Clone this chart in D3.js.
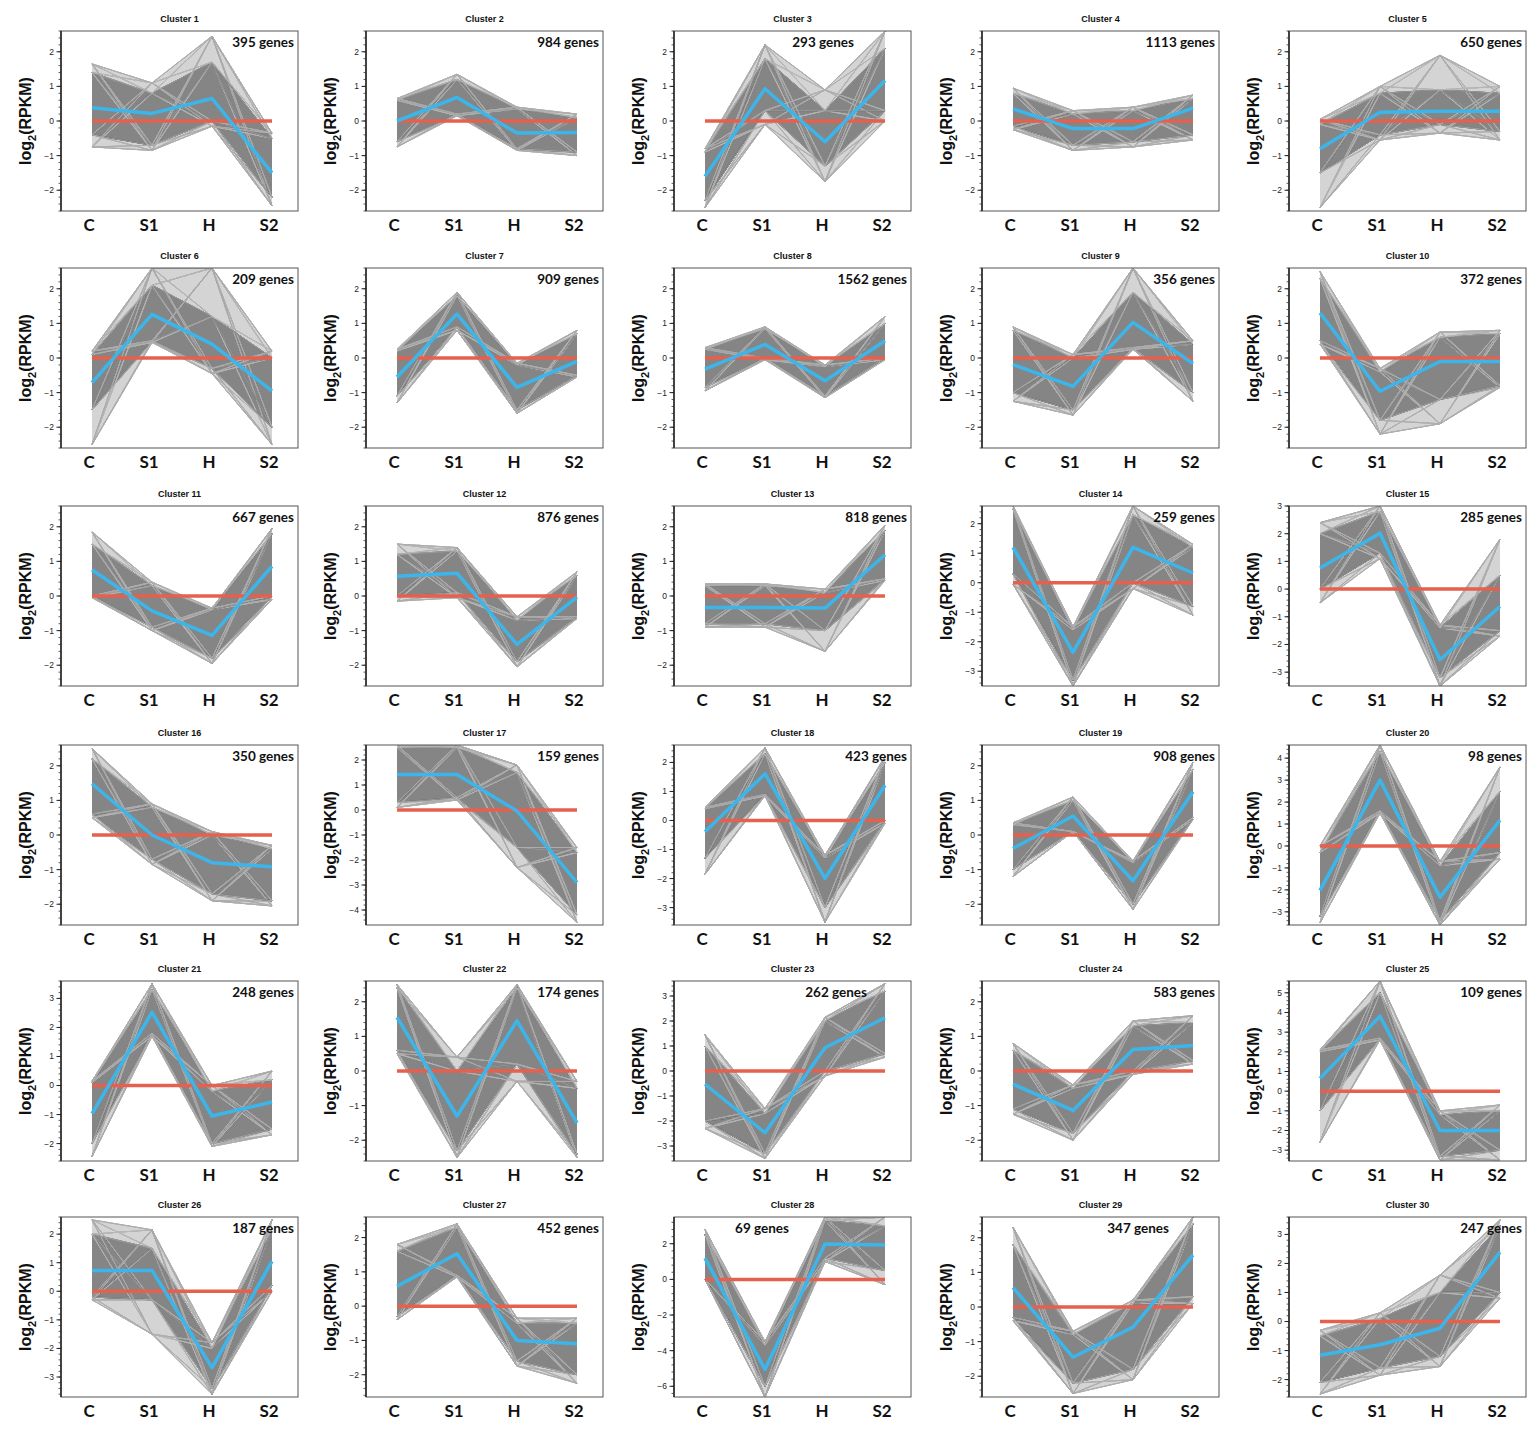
<!DOCTYPE html>
<html><head><meta charset="utf-8">
<script src="https://cdn.jsdelivr.net/npm/d3@7"></script>
<style>body{margin:0;background:#fff}svg{display:block}</style>
</head><body>
<svg id="chart" width="1539" height="1434"></svg>
<script>
const stages = ["C", "S1", "H", "S2"];
const clusterIds = [1,2,3,4,5,6,7,8,9,10,11,12,13,14,15,16,17,18,19,20,21,22,23,24,25,26,27,28,29,30];
const geneCounts = [395,984,293,1113,650,209,909,1562,356,372,667,876,818,259,285,350,159,423,908,98,248,174,262,583,109,187,452,69,347,247];
// mean (blue) profile per cluster, values at C, S1, H, S2
const meanProfiles = [
 [0.38,0.22,0.65,-1.5],[0.0,0.68,-0.35,-0.33],[-1.6,0.93,-0.6,1.17],[0.35,-0.22,-0.22,0.37],[-0.8,0.25,0.28,0.28],
 [-0.71,1.26,0.4,-0.95],[-0.55,1.27,-0.85,-0.1],[-0.32,0.39,-0.66,0.5],[-0.19,-0.82,1.03,-0.16],[1.3,-0.96,-0.1,-0.1],
 [0.76,-0.43,-1.14,0.86],[0.57,0.66,-1.4,-0.03],[-0.33,-0.33,-0.35,1.19],[1.2,-2.35,1.2,0.33],[0.76,2.02,-2.55,-0.63],
 [1.48,0.0,-0.8,-0.92],[1.42,1.42,-0.04,-2.9],[-0.39,1.61,-1.99,1.21],[-0.39,0.55,-1.32,1.25],[-2.02,3.0,-2.33,1.17],
 [-0.97,2.52,-1.05,-0.57],[1.55,-1.3,1.45,-1.5],[-0.53,-2.47,0.93,2.13],[-0.38,-1.14,0.62,0.74],[0.65,3.81,-2.0,-2.0],
 [0.73,0.73,-2.67,1.05],[0.58,1.53,-1.0,-1.1],[1.19,-5.05,1.98,1.93],[0.56,-1.45,-0.58,1.5],[-1.16,-0.8,-0.23,2.39]
];
// lowest gene profile values at each stage
const lowerBounds = [
 [-0.75,-0.85,-0.15,-2.45],[-0.75,0.15,-0.85,-1.0],[-2.5,-0.1,-1.75,0.0],[-0.25,-0.85,-0.75,-0.55],[-2.5,-0.55,-0.35,-0.55],
 [-2.5,0.45,-0.45,-2.5],[-1.3,0.8,-1.6,-0.55],[-0.95,-0.05,-1.15,-0.05],[-1.25,-1.65,0.25,-1.25],[0.4,-2.2,-1.9,-0.85],
 [-0.05,-1.0,-1.95,-0.1],[-0.15,-0.05,-2.05,-0.65],[-0.9,-0.9,-1.6,0.45],[-0.05,-3.5,-0.2,-1.1],[-0.5,1.1,-3.5,-1.7],
 [0.5,-0.85,-1.9,-2.05],[0.1,0.4,-2.3,-4.5],[-1.85,0.85,-3.5,-0.1],[-1.2,0.1,-2.15,0.45],[-3.5,1.5,-3.6,-0.6],
 [-2.45,1.7,-2.1,-1.7],[0.5,-2.5,-0.3,-2.5],[-2.3,-3.5,-0.2,0.55],[-1.25,-2.0,-0.1,0.2],[-2.6,2.6,-3.5,-3.5],
 [-0.3,-1.5,-3.6,0.0],[-0.4,0.85,-1.75,-2.25],[0.0,-6.6,1.0,-0.3],[-0.4,-2.5,-2.1,0.1],[-2.5,-1.85,-1.55,0.8]
];
// highest gene profile values at each stage
const upperBounds = [
 [1.65,1.1,2.45,-0.35],[0.65,1.35,0.4,0.2],[-0.8,2.2,0.9,2.6],[0.95,0.3,0.4,0.75],[0.05,1.0,1.9,1.0],
 [0.2,2.6,2.6,0.2],[0.25,1.9,-0.15,0.8],[0.3,0.9,-0.2,1.2],[0.9,0.1,2.6,0.5],[2.5,-0.3,0.75,0.8],
 [1.85,0.4,-0.35,1.95],[1.5,1.4,-0.6,0.7],[0.35,0.35,0.2,2.05],[2.6,-1.5,2.6,1.3],[2.4,3.0,-1.3,1.8],
 [2.5,0.9,0.1,-0.3],[2.6,2.6,1.8,-1.5],[0.45,2.5,-1.2,2.2],[0.35,1.1,-0.75,2.1],[0.0,4.6,-0.7,3.6],
 [0.15,3.5,0.0,0.5],[2.5,0.4,2.5,-0.3],[1.45,-1.5,2.15,3.5],[0.8,-0.4,1.45,1.6],[2.1,5.6,-1.0,-0.7],
 [2.5,2.15,-1.8,2.5],[1.8,2.4,-0.35,-0.35],[2.8,-3.5,3.5,3.5],[2.3,-0.7,0.2,2.6],[-0.3,0.3,1.6,3.5]
];
// dense core of gene profiles: lower edge
const coreLower = [
 [-0.4,-0.7,0.0,-2.2],[-0.6,0.2,-0.8,-0.9],[-2.3,0.3,-1.3,0.3],[-0.15,-0.7,-0.6,-0.4],[-1.5,-0.4,-0.1,-0.3],
 [-1.5,0.5,-0.3,-2.0],[-1.1,0.9,-1.5,-0.5],[-0.85,0.0,-1.1,0.0],[-1.0,-1.5,0.3,-1.0],[0.5,-1.8,-1.2,-0.8],
 [0.0,-0.9,-1.8,0.0],[0.0,0.1,-1.9,-0.6],[-0.8,-0.8,-1.0,0.5],[0.3,-3.3,0.0,-0.8],[0.0,1.3,-3.2,-1.5],
 [0.6,-0.7,-1.7,-1.9],[0.3,0.5,-1.5,-4.2],[-1.3,0.9,-3.0,0.0],[-1.0,0.1,-2.0,0.5],[-3.2,1.6,-3.4,-0.3],
 [-2.0,1.8,-2.0,-1.5],[0.6,-2.3,0.2,-2.4],[-2.0,-3.3,0.0,0.7],[-1.1,-1.8,0.0,0.3],[-1.0,2.7,-3.3,-3.0],
 [-0.2,-0.3,-3.4,0.2],[-0.3,0.9,-1.6,-2.0],[0.0,-6.0,1.2,0.5],[-0.3,-2.2,-1.8,0.3],[-2.1,-1.6,-1.2,1.0]
];
// dense core of gene profiles: upper edge
const coreUpper = [
 [1.4,0.8,1.7,-0.5],[0.6,1.2,0.35,0.1],[-0.9,1.8,0.3,2.1],[0.8,0.2,0.3,0.65],[-0.1,0.8,0.9,0.8],
 [0.1,2.1,1.2,0.0],[0.2,1.8,-0.2,0.7],[0.25,0.85,-0.25,1.0],[0.8,0.0,1.9,0.4],[2.3,-0.4,0.6,0.7],
 [1.5,0.3,-0.4,1.8],[1.2,1.3,-0.7,0.6],[0.3,0.3,0.1,1.9],[2.5,-1.6,2.3,1.2],[2.0,2.8,-1.4,0.5],
 [2.2,0.8,0.0,-0.4],[2.5,2.5,1.5,-1.7],[0.4,2.3,-1.3,2.0],[0.3,1.0,-0.8,1.9],[-0.3,4.3,-0.9,2.5],
 [0.1,3.3,-0.2,0.2],[2.4,0.0,2.4,-0.5],[1.0,-1.7,2.0,3.2],[0.6,-0.5,1.3,1.4],[2.0,5.0,-1.2,-1.0],
 [2.0,1.5,-2.0,2.2],[1.6,2.3,-0.5,-0.5],[2.5,-3.7,3.3,3.0],[1.8,-0.8,0.1,2.4],[-0.5,0.1,1.0,3.3]
];
const yDomains = [
 [-2.6,2.6],[-2.6,2.6],[-2.6,2.6],[-2.6,2.6],[-2.6,2.6],
 [-2.6,2.6],[-2.6,2.6],[-2.6,2.6],[-2.6,2.6],[-2.6,2.6],
 [-2.6,2.6],[-2.6,2.6],[-2.6,2.6],[-3.5,2.6],[-3.5,3.0],
 [-2.6,2.6],[-4.6,2.6],[-3.6,2.6],[-2.6,2.6],[-3.6,4.6],
 [-2.6,3.6],[-2.6,2.6],[-3.6,3.6],[-2.6,2.6],[-3.55,5.6],
 [-3.7,2.6],[-2.65,2.6],[-6.6,3.5],[-2.6,2.6],[-2.6,3.6]
];
const yTickSteps = [1,1,1,1,1,1,1,1,1,1,1,1,1,1,1,1,1,1,1,1,1,1,1,1,1,1,1,2,1,1];

// ---- layout ----
const colLefts = [61, 366, 674, 982, 1289];
const rowTops = [31, 268, 506, 745, 981, 1217];
const panelW = 237, panelH = 180;
const genesLabelInset = {3: 57, 23: 44, 28: 122, 29: 50};
const coreShades = ["#000000", "#3a3a3a", "#6f6f6f", "#a8a8a8"];
const edgeShades = ["#8a8a8a", "#b4b4b4", "#d2d2d2"];

const svg = d3.select("#chart");
const defs = svg.append("defs");

clusterIds.forEach((cid, k) => {
  const col = k % 5, row = Math.floor(k / 5);
  const left = colLefts[col], top = rowTops[row];
  const g = svg.append("g").attr("transform", `translate(${left},${top})`);
  const x = d3.scaleLinear().domain([1, 4]).range([31, 211]);
  const y = d3.scaleLinear().domain(yDomains[k]).range([panelH, 0]);

  defs.append("clipPath").attr("id", "clip" + cid)
    .append("rect").attr("width", panelW).attr("height", panelH);
  const plot = g.append("g").attr("clip-path", `url(#clip${cid})`);

  const levels = [lowerBounds[k], coreLower[k], coreUpper[k], upperBounds[k]];
  const mu = meanProfiles[k];
  const idx = [0, 1, 2, 3];
  const band = (a, b) => d3.area().x(i => x(i + 1)).y0(i => y(a[i])).y1(i => y(b[i]))(idx);
  plot.append("path").attr("d", band(levels[0], levels[3])).attr("fill", "#d4d4d4");
  plot.append("path").attr("d", band(levels[1], levels[2])).attr("fill", "#858585");

  // individual gene-like profiles: every combination of the read levels at the four stages
  const line = d3.line().x(d => x(d[0] + 1)).y(d => y(d[1]));
  const combos = [];
  for (let m = 0; m < 256; m++) combos.push(idx.map(i => (m >> (2 * i)) & 3));
  const isEdge = lv => lv.some(v => v === 0 || v === 3);
  plot.append("g").selectAll("path").data(combos).join("path")
    .attr("d", lv => line(idx.map(i => [i, levels[lv[i]][i]])))
    .attr("fill", "none")
    .attr("stroke", (lv, j) => isEdge(lv) ? edgeShades[j % 3] : coreShades[j % 4])
    .attr("stroke-opacity", lv => isEdge(lv) ? 0.45 : 0.8)
    .attr("stroke-width", lv => isEdge(lv) ? 0.5 : 0.7);

  // zero line
  plot.append("path").attr("d", line([[0, 0], [3, 0]])).attr("stroke", "#e5604d")
    .attr("stroke-width", 3.5).attr("fill", "none");
  // mean line
  plot.append("path").attr("d", line(idx.map(i => [i, mu[i]]))).attr("stroke", "#3cb6ea")
    .attr("stroke-width", 3.5).attr("fill", "none").attr("stroke-linejoin", "round");

  // frame
  g.append("rect").attr("width", panelW).attr("height", panelH)
    .attr("fill", "none").attr("stroke", "#555").attr("stroke-width", 1);

  // y axis
  const [d0, d1] = yDomains[k];
  const step = yTickSteps[k];
  const majors = d3.range(Math.ceil(d0 / step) * step, d1 + 1e-9, step);
  const minors = d3.range(Math.ceil(d0 / (step / 5)) * (step / 5), d1 + 1e-9, step / 5);
  const ax = g.append("g");
  ax.append("line").attr("y1", 0).attr("y2", panelH).attr("stroke", "#222").attr("stroke-width", 1.5);
  ax.selectAll("line.mn").data(minors).join("line").attr("class", "mn")
    .attr("x1", -2.5).attr("x2", 0).attr("y1", d => y(d)).attr("y2", d => y(d))
    .attr("stroke", "#333").attr("stroke-width", 0.8);
  ax.selectAll("line.mj").data(majors).join("line").attr("class", "mj")
    .attr("x1", -4.5).attr("x2", 0).attr("y1", d => y(d)).attr("y2", d => y(d))
    .attr("stroke", "#222").attr("stroke-width", 1);
  ax.selectAll("text").data(majors).join("text")
    .attr("x", -7).attr("y", d => y(d)).attr("dy", "0.35em").attr("text-anchor", "end")
    .attr("font-family", "Liberation Sans, Arial, sans-serif").attr("font-size", 8.5).attr("fill", "#222")
    .text(d => d < 0 ? "\u2212" + Math.abs(Math.round(d)) : String(Math.round(d)));

  // y label
  const yl = g.append("text").attr("transform", `translate(-30,${panelH / 2}) rotate(-90)`)
    .attr("text-anchor", "middle").attr("font-family", "Liberation Sans, Arial, sans-serif")
    .attr("font-weight", "bold").attr("font-size", 16).attr("fill", "#111");
  yl.append("tspan").text("log");
  yl.append("tspan").attr("font-size", 11).attr("dy", 5).text("2");
  yl.append("tspan").attr("dy", -5).text("(RPKM)");

  // x labels
  g.selectAll("text.xl").data(stages).join("text").attr("class", "xl")
    .attr("x", (d, i) => x(i + 1) - 3).attr("y", panelH + 20).attr("text-anchor", "middle")
    .attr("font-family", "Lato, sans-serif").attr("font-weight", "bold").attr("font-size", 17)
    .attr("fill", "#111").text(d => d);

  // title
  g.append("text").attr("x", panelW / 2).attr("y", -9).attr("text-anchor", "middle")
    .attr("font-family", "Liberation Sans Narrow, Liberation Sans, sans-serif").attr("font-weight", "bold")
    .attr("font-size", 9).attr("fill", "#111").text("Cluster " + cid);

  // gene count
  const inset = genesLabelInset[cid] || 4;
  g.append("text").attr("x", panelW - inset).attr("y", 16).attr("text-anchor", "end")
    .attr("font-family", "Lato, sans-serif").attr("font-weight", "bold").attr("font-size", 13.5)
    .attr("fill", "#111").text(geneCounts[k] + " genes");
});
</script>
</body></html>
